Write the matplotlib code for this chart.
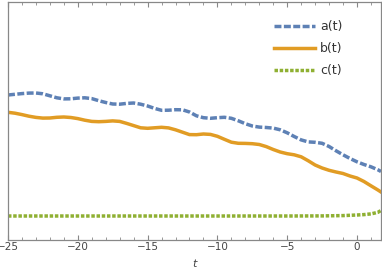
import numpy as np
import matplotlib
matplotlib.use("Agg")
import matplotlib.pyplot as plt
from matplotlib.ticker import MultipleLocator

t = [-25 + 0.5 * k for k in range(54)] + [1.72]

a_vals = [1.445, 1.452, 1.459, 1.464, 1.465, 1.457, 1.437, 1.417, 1.406, 1.407,
          1.414, 1.417, 1.409, 1.388, 1.370, 1.355, 1.353, 1.361, 1.365, 1.353,
          1.335, 1.311, 1.292, 1.293, 1.298, 1.297, 1.275, 1.237, 1.218, 1.212,
          1.218, 1.222, 1.212, 1.187, 1.158, 1.135, 1.124, 1.120, 1.114, 1.097,
          1.067, 1.030, 0.996, 0.976, 0.972, 0.962, 0.930, 0.887, 0.847, 0.810,
          0.777, 0.750, 0.727, 0.697, 0.680]

b_vals = [1.272, 1.263, 1.249, 1.233, 1.221, 1.214, 1.215, 1.222, 1.225, 1.220,
          1.209, 1.193, 1.181, 1.178, 1.181, 1.186, 1.181, 1.161, 1.139, 1.117,
          1.112, 1.117, 1.122, 1.116, 1.097, 1.073, 1.049, 1.048, 1.055, 1.051,
          1.032, 1.002, 0.973, 0.962, 0.961, 0.958, 0.950, 0.929, 0.900, 0.875,
          0.858, 0.847, 0.827, 0.788, 0.745, 0.715, 0.692, 0.675, 0.660, 0.635,
          0.615, 0.580, 0.537, 0.495, 0.475]

c_t = [-25, -15, -10, -5, -2.5, -1, 0, 0.5, 1, 1.5, 1.72]
c_vals = [0.235, 0.235, 0.235, 0.235, 0.236, 0.239, 0.245, 0.249, 0.256, 0.272, 0.29]

labels = ["a(t)", "b(t)", "c(t)"]
colors = ["#5E81B5", "#E19C24", "#8FB032"]
xticks = [-25, -20, -15, -10, -5, 0]
xticklabels = ["\u221225", "\u221220", "\u221215", "\u221210", "\u22125", "0"]

fig = plt.figure(figsize=(3.82, 2.73), dpi=100)
ax = fig.add_axes([8/382, 1 - 239.5/273, 373/382, 237.5/273])

lw = 2.5
la, = ax.plot(t, a_vals, color=colors[0], lw=lw, label=labels[0], dash_capstyle="butt")
la.set_dashes((2.0, 0.7))
lb, = ax.plot(t, b_vals, color=colors[1], lw=lw, label=labels[1])
lc, = ax.plot(c_t, c_vals, color=colors[2], lw=lw, label=labels[2], dash_capstyle="butt")
lc.set_dashes((1.0, 0.5))

ax.set_xlim(-25, 1.72)
ax.set_ylim(0, 2.375)

ax.set_xticks(xticks)
ax.set_xticklabels(xticklabels)
ax.xaxis.set_minor_locator(MultipleLocator(1))
ax.set_yticks([])
ax.tick_params(axis="x", which="major", direction="in", length=3.5, width=0.8,
               top=True, bottom=True, color="#888888", labelsize=7.5,
               labelcolor="#444444", pad=2)
ax.tick_params(axis="x", which="minor", direction="in", length=2, width=0.6,
               top=True, bottom=True, color="#888888")
for s in ax.spines.values():
    s.set_color("#888888")
    s.set_linewidth(0.9)

ax.set_xlabel("t", fontstyle="italic", fontsize=8, color="#444444", labelpad=5)

leg = ax.legend(loc="upper left", bbox_to_anchor=(0.70, 0.945), frameon=False,
                fontsize=9, handlelength=3.3, handletextpad=0.4,
                labelspacing=0.72, borderaxespad=0.0)
for txt in leg.get_texts():
    txt.set_color("#333333")

fig.savefig("out.png", dpi=100)
